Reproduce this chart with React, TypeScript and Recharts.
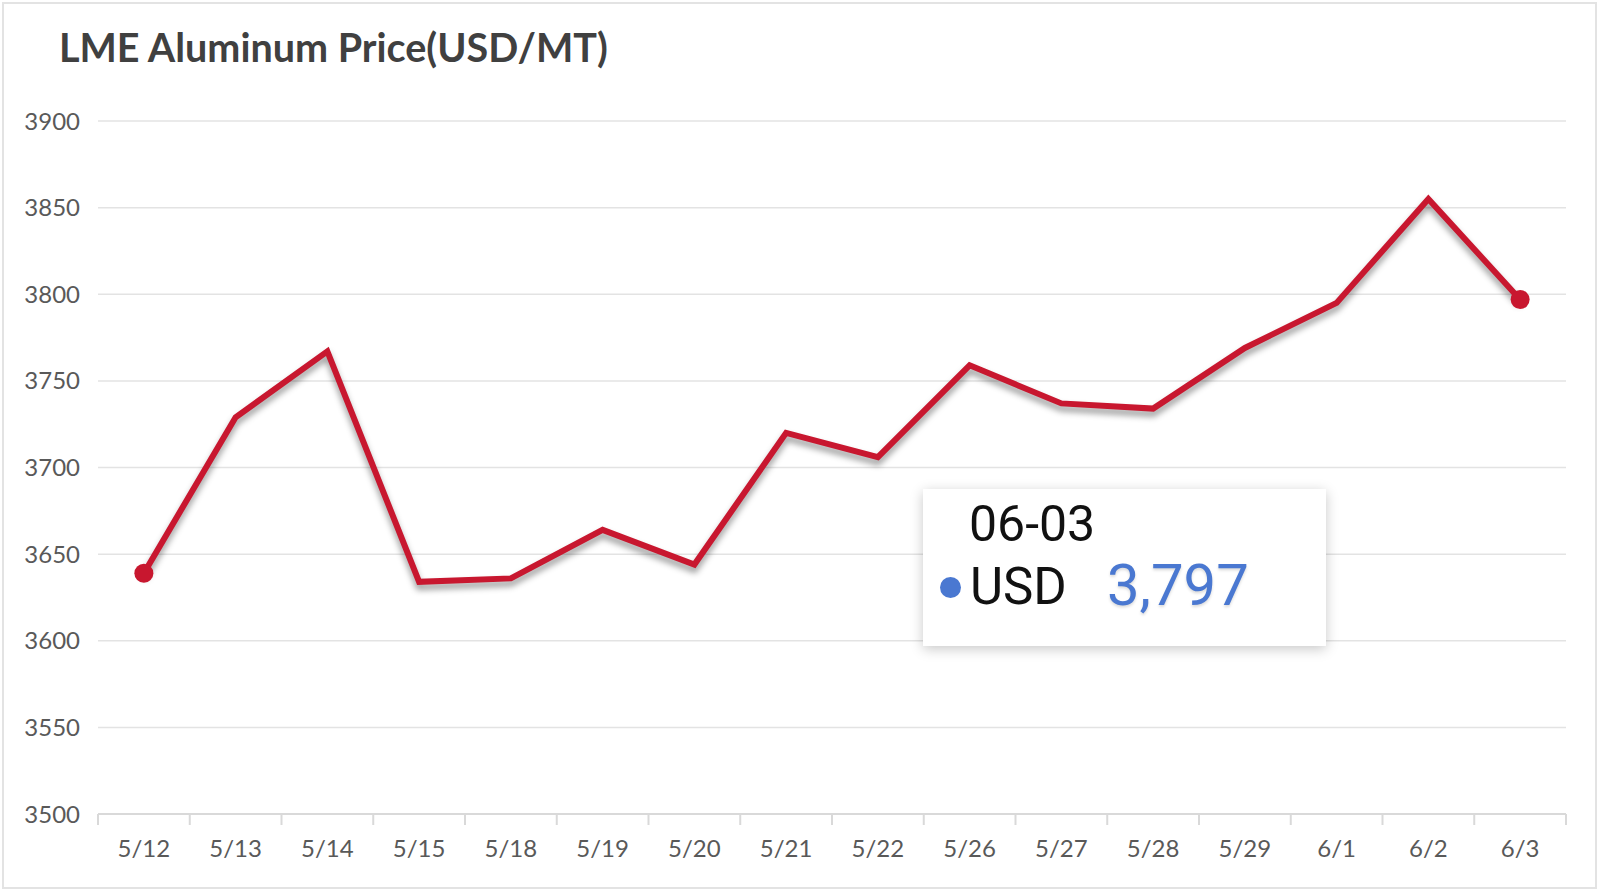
import { LineChart, Line, XAxis, YAxis, CartesianGrid, Tooltip } from "recharts";

const dates = ["5/12", "5/13", "5/14", "5/15", "5/18", "5/19", "5/20", "5/21", "5/22", "5/26", "5/27", "5/28", "5/29", "6/1", "6/2", "6/3"];
const prices = [3639, 3729, 3767, 3634, 3636, 3664, 3644, 3720, 3706, 3759, 3737, 3734, 3769, 3795, 3855, 3797];
const priceTicks = [3500, 3550, 3600, 3650, 3700, 3750, 3800, 3850, 3900];
const seriesName = "USD";

const data = dates.map((date, i) => ({ i, date, price: prices[i] }));
// labels sit on whole indexes, tick marks on the band edges between them
const xTicks = dates.flatMap((_, i) => [i - 0.5, i]).concat(dates.length - 0.5);

const RED = "#c8172f";
const GRAY = "#d9d9d9";
const SHADOW = "drop-shadow(0px 5px 3px rgba(0,0,0,0.4))";

function XTick(props: any) {
  const { x, y, payload } = props;
  const v = payload.value;
  if (Number.isInteger(v)) {
    return (
      <text x={x} y={y + 43} textAnchor="middle" fill="#595959" fontSize={24} fontFamily="Lato">
        {dates[v]}
      </text>
    );
  }
  return <line x1={x} x2={x} y1={y} y2={y + 11} stroke={GRAY} strokeWidth={2} />;
}

function EndDot(props: any) {
  const { cx, cy, index } = props;
  if (index === 0 || index === prices.length - 1) {
    return <circle key={`d${index}`} cx={cx} cy={cy} r={9.5} fill={RED} />;
  }
  return <g key={`d${index}`} />;
}

function TipBox({ active, payload }: any) {
  if (!active || !payload || !payload.length) return null;
  const row = payload[0].payload;
  const [m, d] = row.date.split("/");
  const label = `${m.padStart(2, "0")}-${d.padStart(2, "0")}`;
  const txt = { position: "absolute" as const, lineHeight: 1, whiteSpace: "nowrap" as const };
  return (
    <div
      style={{
        width: 403,
        height: 157,
        boxSizing: "border-box",
        background: "#fff",
        boxShadow: "0 3px 12px rgba(0,0,0,0.22)",
        fontFamily: "Roboto",
        position: "relative",
      }}
    >
      <div style={{ ...txt, left: 46, top: 10, fontSize: 50, color: "#111" }}>{label}</div>
      <div style={{ position: "absolute", left: 17, top: 88, width: 21, height: 21, borderRadius: "50%", background: "#4a78d1" }} />
      <div style={{ ...txt, left: 47, top: 72, fontSize: 51, color: "#111" }}>{seriesName}</div>
      <div
        style={{
          ...txt,
          left: 184,
          top: 67,
          fontSize: 58,
          color: "#4a78d1",
          textShadow: "0 2px 3px rgba(0,0,0,0.15)",
        }}
      >
        {Number(payload[0].value).toLocaleString("en-US")}
      </div>
    </div>
  );
}

export default function App() {
  return (
    <div style={{ position: "absolute", left: 0, top: 0, width: 1600, height: 891, background: "#fff" }}>
      <style>{`.recharts-line { filter: ${SHADOW}; }`}</style>
      <div
        style={{
          position: "absolute",
          left: 2,
          top: 2,
          width: 1595,
          height: 887,
          boxSizing: "border-box",
          border: "2px solid #e3e3e3",
        }}
      />
      <div
        style={{
          position: "absolute",
          left: 59,
          top: 27,
          fontFamily: "Lato",
          fontWeight: 700,
          fontSize: 39.5,
          lineHeight: 1,
          color: "#404040",
          whiteSpace: "nowrap",
        }}
      >
        LME Aluminum Price(USD/MT)
      </div>
      <div style={{ position: "absolute", left: 0, top: 0 }}>
        <LineChart width={1600} height={891} data={data} margin={{ top: 121, right: 34, bottom: 17, left: 0 }}>
          <CartesianGrid vertical={false} stroke="#e3e3e3" strokeWidth={1.5} />
          <XAxis
            type="number"
            dataKey="i"
            domain={[-0.5, dates.length - 0.5]}
            ticks={xTicks}
            interval={0}
            allowDecimals
            tickLine={false}
            tickSize={0}
            tickMargin={0}
            axisLine={{ stroke: GRAY, strokeWidth: 2 }}
            tick={<XTick />}
            height={60}
          />
          <YAxis
            domain={[3500, 3900]}
            ticks={priceTicks}
            interval={0}
            width={98}
            tickLine={false}
            axisLine={false}
            tickSize={0}
            tickMargin={18}
            tick={{ fill: "#595959", fontSize: 24, fontFamily: "Lato" }}
          />
          <Tooltip
            active
            defaultIndex={prices.length - 1}
            position={{ x: 923, y: 489 }}
            cursor={false}
            isAnimationActive={false}
            content={<TipBox />}
            wrapperStyle={{ outline: "none" }}
          />
          <Line
            type="linear"
            dataKey="price"
            name={seriesName}
            stroke={RED}
            strokeWidth={6}
            dot={EndDot}
            activeDot={false}
            isAnimationActive={false}
          />
        </LineChart>
      </div>
    </div>
  );
}
